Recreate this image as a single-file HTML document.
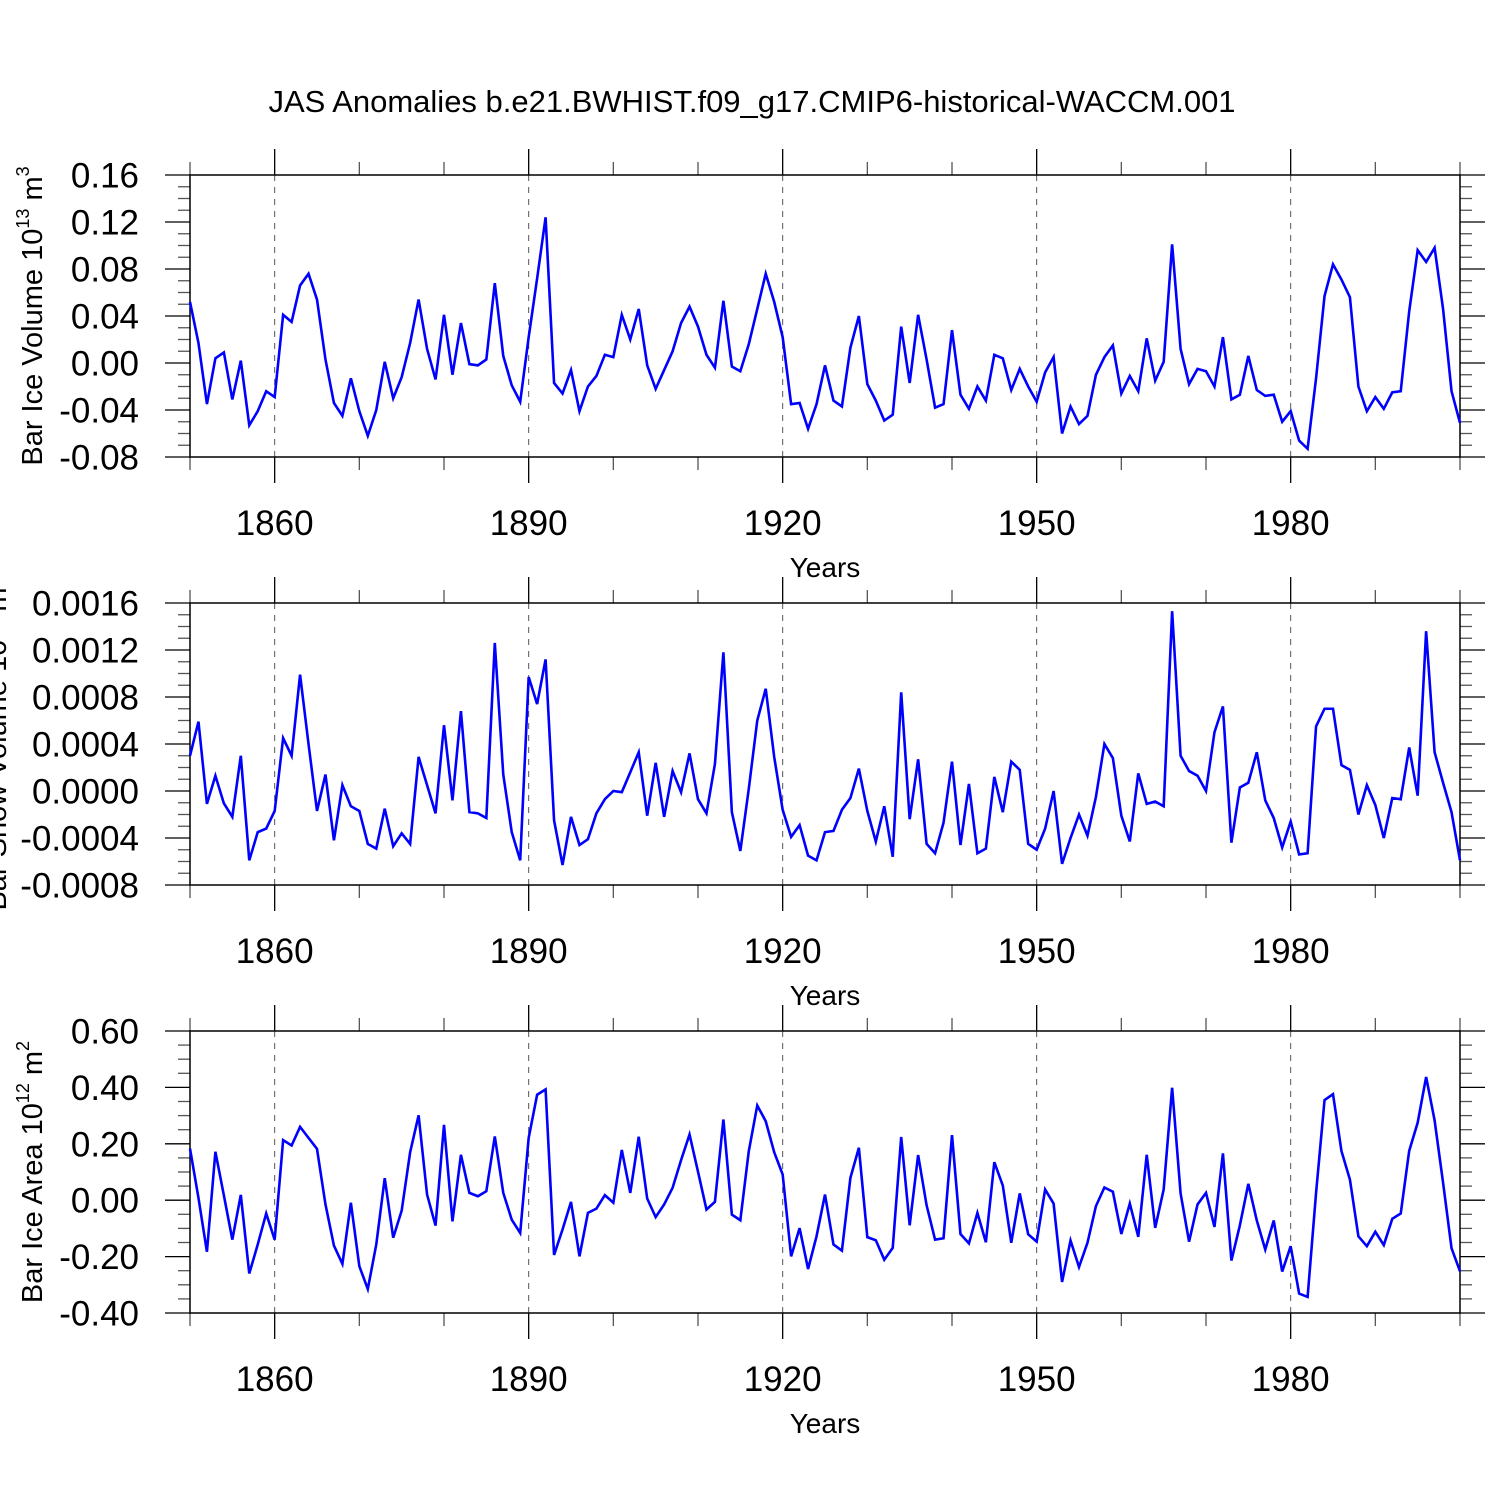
<!DOCTYPE html>
<html><head><meta charset="utf-8"><style>
html,body{margin:0;padding:0;background:#fff;}
svg{display:block;font-family:"Liberation Sans",Arial,sans-serif;}
</style></head><body>
<svg id="chart" width="1500" height="1500" viewBox="0 0 1500 1500" xmlns="http://www.w3.org/2000/svg">
<rect width="1500" height="1500" fill="#fff"/>
<text x="752" y="112" font-size="31" text-anchor="middle">JAS Anomalies b.e21.BWHIST.f09_g17.CMIP6-historical-WACCM.001</text>
</svg>
<script>
const years = [];
for (let y = 1850; y <= 2000; y++) years.push(y);
const xTickLabels = ["1860","1890","1920","1950","1980"];
const iceVolume = [0.052,0.017,-0.035,0.004,0.009,-0.031,0.002,-0.053,-0.041,-0.024,
-0.029,0.041,0.035,0.066,0.076,0.054,0.003,-0.034,-0.045,-0.013,
-0.041,-0.062,-0.040,0.001,-0.030,-0.012,0.017,0.054,0.012,-0.014,
0.041,-0.010,0.034,-0.001,-0.002,0.003,0.068,0.006,-0.019,-0.033,
0.022,0.072,0.124,-0.017,-0.026,-0.006,-0.041,-0.020,-0.011,0.007,
0.005,0.041,0.020,0.046,-0.002,-0.022,-0.006,0.010,0.034,0.048,
0.031,0.007,-0.004,0.053,-0.003,-0.007,0.016,0.046,0.076,0.052,
0.022,-0.035,-0.034,-0.056,-0.035,-0.002,-0.032,-0.037,0.013,0.040,
-0.018,-0.032,-0.049,-0.044,0.031,-0.017,0.041,0.003,-0.038,-0.035,
0.028,-0.027,-0.039,-0.020,-0.032,0.007,0.004,-0.023,-0.005,-0.020,
-0.033,-0.008,0.005,-0.060,-0.037,-0.052,-0.045,-0.010,0.005,0.015,
-0.026,-0.011,-0.024,0.021,-0.015,0.001,0.101,0.012,-0.018,-0.005,
-0.007,-0.020,0.022,-0.031,-0.027,0.006,-0.023,-0.028,-0.027,-0.050,
-0.041,-0.066,-0.073,-0.013,0.057,0.084,0.071,0.056,-0.020,-0.041,
-0.029,-0.039,-0.025,-0.024,0.044,0.096,0.086,0.098,0.046,-0.024,-0.051];
const snowVolume = [3.0,5.9,-1.1,1.3,-1.05,-2.2,3.0,-5.9,-3.5,-3.2,
-1.7,4.5,3.0,9.9,4.0,-1.7,1.4,-4.2,0.5,-1.3,
-1.7,-4.5,-4.9,-1.5,-4.7,-3.6,-4.5,2.9,0.5,-1.9,
5.6,-0.8,6.8,-1.8,-1.9,-2.3,12.6,1.4,-3.5,-5.9,
9.7,7.4,11.2,-2.5,-6.3,-2.2,-4.6,-4.1,-1.9,-0.7,
0.0,-0.1,1.6,3.3,-2.1,2.4,-2.2,1.7,-0.1,3.2,
-0.7,-1.9,2.3,11.8,-1.8,-5.1,0.2,6.0,8.7,2.9,
-1.6,-3.9,-2.9,-5.5,-5.9,-3.5,-3.4,-1.6,-0.6,1.9,
-1.7,-4.3,-1.3,-5.6,8.4,-2.4,2.7,-4.5,-5.3,-2.7,
2.5,-4.6,0.6,-5.3,-4.9,1.2,-1.8,2.5,1.8,-4.5,
-5.0,-3.2,0.0,-6.2,-4.0,-2.0,-3.8,-0.5,4.0,2.8,
-2.1,-4.3,1.5,-1.1,-0.9,-1.3,15.3,3.0,1.7,1.3,
0.0,5.0,7.2,-4.4,0.3,0.7,3.3,-0.8,-2.3,-4.8,
-2.6,-5.4,-5.3,5.5,7.0,7.0,2.2,1.8,-2.0,0.5,
-1.2,-4.0,-0.6,-0.7,3.7,-0.4,13.6,3.3,0.7,-1.8,-5.9].map(v => v * 1e-4);
const iceArea = [0.183,0.008,-0.183,0.172,0.017,-0.140,0.019,-0.260,-0.157,-0.047,
-0.140,0.213,0.194,0.260,0.221,0.182,-0.015,-0.161,-0.226,-0.009,
-0.234,-0.315,-0.157,0.078,-0.133,-0.037,0.170,0.301,0.020,-0.090,
0.267,-0.075,0.161,0.026,0.014,0.032,0.226,0.026,-0.069,-0.116,
0.221,0.374,0.393,-0.194,-0.104,-0.006,-0.199,-0.045,-0.030,0.018,
-0.009,0.178,0.026,0.225,0.006,-0.060,-0.015,0.044,0.142,0.233,
0.101,-0.033,-0.006,0.286,-0.051,-0.071,0.174,0.336,0.280,0.170,
0.091,-0.199,-0.099,-0.244,-0.128,0.020,-0.157,-0.179,0.079,0.186,
-0.131,-0.142,-0.211,-0.169,0.224,-0.089,0.160,-0.018,-0.140,-0.135,
0.231,-0.120,-0.153,-0.045,-0.149,0.135,0.052,-0.151,0.024,-0.121,
-0.147,0.038,-0.012,-0.290,-0.143,-0.237,-0.151,-0.021,0.045,0.030,
-0.120,-0.012,-0.130,0.161,-0.098,0.038,0.399,0.024,-0.147,-0.015,
0.026,-0.095,0.166,-0.214,-0.089,0.058,-0.072,-0.175,-0.072,-0.253,
-0.163,-0.331,-0.343,0.026,0.355,0.376,0.174,0.073,-0.128,-0.163,
-0.112,-0.159,-0.066,-0.047,0.175,0.275,0.437,0.283,0.062,-0.170,-0.252];
const yTicks1 = ["0.16","0.12","0.08","0.04","0.00","-0.04","-0.08"];
const yTicks2 = ["0.0016","0.0012","0.0008","0.0004","0.0000","-0.0004","-0.0008"];
const yTicks3 = ["0.60","0.40","0.20","0.00","-0.20","-0.40"];

const NS = "http://www.w3.org/2000/svg";
const svg = document.getElementById('chart');
const X0 = 190, X1 = 1460, H = 282;
function xs(yr){ return X0 + (yr - 1850) / 150 * (X1 - X0); }
function mk(tag, attrs, parent){
  const e = document.createElementNS(NS, tag);
  for (const k in attrs) e.setAttribute(k, attrs[k]);
  (parent || svg).appendChild(e);
  return e;
}
const panels = [
  {top:175, data:iceVolume, ticks:yTicks1, ymin:-0.08, ymax:0.16, minor:0.01, label:"Bar Ice Volume 10", sup:"13", unit:" m", usup:"3", lx:32, name:"ice-volume"},
  {top:603, data:snowVolume, ticks:yTicks2, ymin:-0.0008, ymax:0.0016, minor:0.0001, label:"Bar Snow Volume 10", sup:"13", unit:" m", usup:"3", lx:-4, name:"snow-volume"},
  {top:1031, data:iceArea, ticks:yTicks3, ymin:-0.4, ymax:0.6, minor:0.05, label:"Bar Ice Area 10", sup:"12", unit:" m", usup:"2", lx:32, name:"ice-area"}
];
panels.forEach(p => {
  const g = mk('g', {});
  
  
  const T = p.top, B = p.top + H;
  const ys = v => B - (v - p.ymin) / (p.ymax - p.ymin) * H;
  xTickLabels.forEach(l => {
    const x = xs(+l);
    const gl = mk('line', {x1:x, x2:x, y1:T, y2:B, stroke:'#555', 'stroke-width':1, 'stroke-dasharray':'6,6'}, g);
    
    
  });
  for (let yr = 1850; yr <= 2000; yr += 10) {
    const x = xs(yr);
    const major = xTickLabels.includes(String(yr));
    const len = major ? 26 : 13;
    const col = major ? '#000' : '#555';
    mk('line', {x1:x, x2:x, y1:B, y2:B+len, stroke:col, 'stroke-width':1.3}, g);
    mk('line', {x1:x, x2:x, y1:T, y2:T-len, stroke:col, 'stroke-width':1.3}, g);
  }
  const nMinor = Math.round((p.ymax - p.ymin) / p.minor);
  const nMajor = p.ticks.length - 1;
  const every = nMinor / nMajor;
  for (let i = 0; i <= nMinor; i++) {
    const y = ys(p.ymin + i * p.minor);
    const major = i % every === 0;
    const len = major ? 25 : 12;
    const col = major ? '#000' : '#555';
    mk('line', {x1:X0-len, x2:X0, y1:y, y2:y, stroke:col, 'stroke-width':1.3}, g);
    mk('line', {x1:X1, x2:X1+len, y1:y, y2:y, stroke:col, 'stroke-width':1.3}, g);
  }
  p.ticks.forEach((t, i) => {
    const v = p.ymax - i * (p.ymax - p.ymin) / nMajor;
    const tx = mk('text', {x:139, y:ys(v)+12.5, 'font-size':35, 'text-anchor':'end'}, g);
    
    
    tx.textContent = t;
  });
  xTickLabels.forEach(l => {
    const tx = mk('text', {x:xs(+l), y:B+78, 'font-size':35, 'text-anchor':'middle'}, g);
    
    
    tx.textContent = l;
  });
  const xt = mk('text', {x:825, y:B+120, 'font-size':28, 'text-anchor':'middle'}, g);
  
  
  xt.textContent = 'Years';
  const cy = T + H/2;
  const yt = mk('text', {x:0, y:0, 'font-size':29, 'text-anchor':'middle', transform:`translate(${p.lx+10},${cy}) rotate(-90)`}, g);
  
  
  const s1 = document.createElementNS(NS,'tspan'); s1.textContent = p.label; yt.appendChild(s1);
  const s2 = document.createElementNS(NS,'tspan'); s2.setAttribute('dy','-13'); s2.setAttribute('font-size','18'); s2.textContent = p.sup; yt.appendChild(s2);
  const s3 = document.createElementNS(NS,'tspan'); s3.setAttribute('dy','13'); s3.textContent = p.unit; yt.appendChild(s3);
  const s4 = document.createElementNS(NS,'tspan'); s4.setAttribute('dy','-13'); s4.setAttribute('font-size','18'); s4.textContent = p.usup; yt.appendChild(s4);
  const fr = mk('rect', {x:X0, y:T, width:X1-X0, height:H, fill:'none', stroke:'#000', 'stroke-width':1.5}, g);
  
  
  const pts = p.data.map((v, i) => xs(years[i]).toFixed(2) + ',' + ys(v).toFixed(2)).join(' ');
  const pl = mk('polyline', {points:pts, fill:'none', stroke:'#0000ff', 'stroke-width':2.6, 'stroke-linejoin':'miter'}, g);
  
  
});
</script>
</body></html>
